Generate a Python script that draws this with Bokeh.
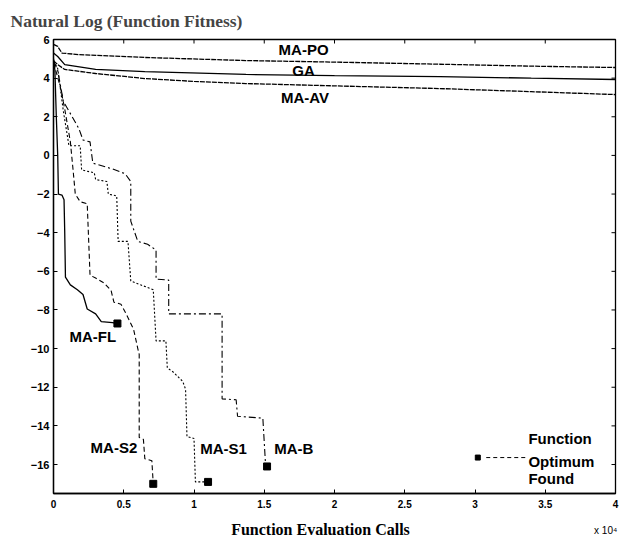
from bokeh.plotting import figure
from bokeh.models import Label, FixedTicker, Range1d, LinearAxis
from bokeh.embed import file_html
from bokeh.resources import INLINE

# ---- data (x in units of 10^4 function evaluation calls, y = ln(fitness)) ----
po_x = [0.0, 0.03, 0.06, 0.18, 0.65, 1.37, 2.0, 2.75, 3.4, 4.0]
po_y = [5.75, 5.64, 5.3, 5.22, 5.07, 4.91, 4.83, 4.72, 4.62, 4.55]

ga_x = [0.0, 0.03, 0.08, 0.3, 0.65, 1.37, 2.0, 2.75, 3.4, 4.0]
ga_y = [5.3, 5.12, 4.7, 4.45, 4.34, 4.19, 4.13, 4.08, 4.0, 3.93]

av_x = [0.0, 0.03, 0.08, 0.3, 0.65, 1.0, 1.37, 2.0, 2.75, 3.4, 4.0]
av_y = [4.9, 4.7, 4.45, 4.24, 3.98, 3.83, 3.72, 3.6, 3.46, 3.3, 3.15]

fl_x = [0.0, 0.01, 0.02, 0.03, 0.035, 0.06, 0.075, 0.08, 0.085, 0.12, 0.17, 0.21, 0.24, 0.3, 0.34, 0.42, 0.455]
fl_y = [5.0, 4.4, 2.0, 0.0, -2.0, -2.05, -2.3, -4.0, -6.3, -6.7, -6.95, -7.2, -7.95, -8.2, -8.6, -8.65, -8.7]

s2_x = [0.0, 0.02, 0.05, 0.08, 0.12, 0.14, 0.155, 0.19, 0.24, 0.26, 0.3, 0.36, 0.41, 0.43, 0.48, 0.51,
        0.57, 0.6, 0.61, 0.61, 0.64, 0.65, 0.7, 0.71]
s2_y = [4.8, 4.3, 3.5, 2.4, 0.7, -0.8, -2.0, -2.4, -2.5, -6.2, -6.35, -6.6, -7.0, -7.6, -7.7, -8.1,
        -9.0, -10.0, -10.3, -14.6, -14.7, -15.7, -15.8, -17.0]

s1_x = [0.0, 0.03, 0.07, 0.11, 0.19, 0.2, 0.29, 0.3, 0.38, 0.39, 0.45, 0.46, 0.53, 0.55, 0.62, 0.71,
        0.73, 0.8, 0.81, 0.85, 0.92, 0.94, 0.95, 1.0, 1.01, 1.1]
s1_y = [4.9, 4.5, 2.3, 0.5, 0.5, -0.75, -0.9, -1.25, -1.35, -2.0, -2.1, -4.45, -4.45, -6.5, -6.7, -6.95,
        -9.6, -9.6, -11.0, -11.2, -11.7, -12.1, -14.55, -14.65, -16.9, -16.9]

b_x = [0.0, 0.03, 0.07, 0.18, 0.21, 0.26, 0.28, 0.42, 0.51, 0.55, 0.55, 0.6, 0.67, 0.73, 0.73, 0.82,
       0.82, 1.2, 1.2, 1.3, 1.31, 1.49, 1.51]
b_y = [4.9, 4.4, 2.8, 1.4, 0.8, 0.7, -0.4, -0.7, -0.95, -1.35, -3.4, -4.45, -4.6, -4.9, -6.4, -6.45,
       -8.2, -8.2, -12.6, -12.65, -13.5, -13.6, -16.1]

found_x = [0.455, 0.71, 1.1, 1.52]
found_y = [-8.7, -17.0, -16.9, -16.1]

x_ticks = [0, 0.5, 1, 1.5, 2, 2.5, 3, 3.5, 4]
x_tick_labels = ["0", "0.5", "1", "1.5", "2", "2.5", "3", "3.5", "4"]
y_ticks = [-16, -14, -12, -10, -8, -6, -4, -2, 0, 2, 4, 6]

curve_labels = ["MA-PO", "GA", "MA-AV", "MA-FL", "MA-S2", "MA-S1", "MA-B"]
legend_lines = ["Function", "Optimum", "Found"]
x_multiplier = "x 10\u2074"

X0, X1, Y0, Y1 = 0, 4, -17.5, 6
FW, FH = 562, 454

# ---- figure ----
p = figure(frame_width=FW, frame_height=FH,
           x_range=Range1d(X0, X1), y_range=Range1d(Y0, Y1),
           output_backend="svg", toolbar_location=None,
           min_border_left=53, min_border_right=6, min_border_top=39, min_border_bottom=40,
           background_fill_color="white", border_fill_color="white")
p.grid.visible = False
p.outline_line_color = "black"
p.outline_line_width = 1.3

p.title.text = "Natural Log (Function Fitness)"
p.title.align = "left"
p.title.offset = -43
p.title.standoff = 17
p.title.text_font = "Liberation Serif"
p.title.text_font_style = "bold"
p.title.text_font_size = "17.5px"

main_x = p.xaxis[0]
main_x.ticker = FixedTicker(ticks=x_ticks)
main_x.major_label_overrides = {t: l for t, l in zip(x_ticks, x_tick_labels)}
p.yaxis.ticker = FixedTicker(ticks=y_ticks)
for ax in p.axis:
    ax.axis_line_color = "black"
    ax.axis_line_width = 1.3
    ax.major_tick_in = 4
    ax.major_tick_out = 0
    ax.major_tick_line_color = "black"
    ax.minor_tick_in = 0
    ax.minor_tick_out = 0
    ax.major_label_text_font = "Liberation Sans"
    ax.major_label_text_font_style = "bold"
    ax.major_label_text_font_size = "10px"
    ax.major_label_text_color = "black"
p.yaxis.major_label_text_font_size = "11px"
main_x.major_label_standoff = 6
p.yaxis.major_label_standoff = 4

# second (unlined) axis below: carries the multiplier and the axis title on one row
lab_ax = LinearAxis(ticker=FixedTicker(ticks=[3.93]),
                    major_label_overrides={3.93: x_multiplier})
lab_ax.axis_line_color = None
lab_ax.major_tick_line_color = None
lab_ax.minor_tick_line_color = None
lab_ax.major_label_text_font = "Liberation Sans"
lab_ax.major_label_text_font_size = "10px"
lab_ax.major_label_text_color = "black"
lab_ax.major_label_standoff = 8
lab_ax.axis_label = "Function Evaluation Calls" + "\u00a0" * 7
lab_ax.axis_label_text_font = "Liberation Serif"
lab_ax.axis_label_text_font_style = "bold"
lab_ax.axis_label_text_font_size = "16px"
lab_ax.axis_label_text_color = "black"
lab_ax.axis_label_standoff = -18
p.add_layout(lab_ax, "below")

# inward ticks on the top and right edges of the box (derived from tick lists)
tick_len_y = 4 * (Y1 - Y0) / FH
tick_len_x = 4 * (X1 - X0) / FW
p.segment(x0=x_ticks, y0=[Y1] * len(x_ticks), x1=x_ticks, y1=[Y1 - tick_len_y] * len(x_ticks),
          line_color="black", line_width=1)
p.segment(x0=[X1] * len(y_ticks), y0=y_ticks, x1=[X1 - tick_len_x] * len(y_ticks), y1=y_ticks,
          line_color="black", line_width=1)

lw = 1.3
p.line(po_x, po_y, line_color="black", line_width=lw, line_dash="5 1")
p.line(ga_x, ga_y, line_color="black", line_width=lw)
p.line(av_x, av_y, line_color="black", line_width=lw, line_dash="5 1")
p.line(fl_x, fl_y, line_color="black", line_width=lw)
p.line(s2_x, s2_y, line_color="black", line_width=1.1, line_dash="5 3")
p.line(s1_x, s1_y, line_color="black", line_width=1.1, line_dash="2 2")
p.line(b_x, b_y, line_color="black", line_width=1.1, line_dash="7 3 2 3")
p.scatter(found_x, found_y, marker="square", size=7, color="black")

def lab(txt, x, y, size="15px", align="center"):
    p.add_layout(Label(x=x, y=y, text=txt, text_font="Liberation Sans",
                       text_font_style="bold", text_font_size=size, text_align=align,
                       text_baseline="middle", text_color="black"))

# curve labels
label_pos = [(1.78, 5.48), (1.78, 4.4), (1.79, 3.0), (0.28, -9.37), (0.43, -15.1), (1.21, -15.17), (1.71, -15.17)]
for t, (x, y) in zip(curve_labels, label_pos):
    lab(t, x, y)

# legend-like annotation
for t, y in zip(legend_lines, [-14.65, -15.84, -16.72]):
    lab(t, 3.38, y, align="left")
p.scatter([3.02], [-15.64], marker="square", size=5, color="black")
p.line([3.08, 3.36], [-15.64, -15.64], line_color="black", line_width=1, line_dash="4 3")

open("out.html", "w").write(file_html(p, INLINE))
